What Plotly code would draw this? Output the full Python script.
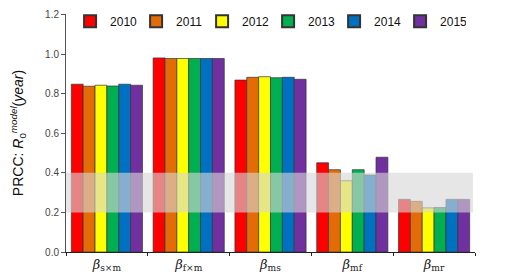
import plotly.graph_objects as go

categories = ["<i>β</i><sub>s×m</sub>", "<i>β</i><sub>f×m</sub>", "<i>β</i><sub>ms</sub>",
              "<i>β</i><sub>mf</sub>", "<i>β</i><sub>mr</sub>"]
years = ["2010", "2011", "2012", "2013", "2014", "2015"]
colors = ["#FF0000", "#E36C09", "#FFFF00", "#00B050", "#0070C0", "#7030A0"]
y_ticks = [0.0, 0.2, 0.4, 0.6, 0.8, 1.0, 1.2]

v2010 = [0.848, 0.981, 0.869, 0.451, 0.266]
v2011 = [0.838, 0.978, 0.883, 0.416, 0.256]
v2012 = [0.843, 0.978, 0.886, 0.360, 0.223]
v2013 = [0.839, 0.978, 0.881, 0.416, 0.225]
v2014 = [0.848, 0.978, 0.883, 0.389, 0.266]
v2015 = [0.843, 0.978, 0.873, 0.479, 0.266]
series = [v2010, v2011, v2012, v2013, v2014, v2015]

band_low, band_high = 0.2, 0.4

fig = go.Figure()
for y, vals, c in zip(years, series, colors):
    fig.add_trace(go.Bar(x=categories, y=vals, name=y, marker_color=c,
                         marker_line=dict(color="#333333", width=0.7)))

fig.add_shape(type="rect", xref="paper", yref="y", x0=0, x1=0.995,
              y0=band_low, y1=band_high, fillcolor="rgba(215,215,215,0.62)",
              line_width=0, layer="above")

fig.update_layout(
    width=505, height=272,
    margin=dict(l=58, r=38, t=6, b=28, autoexpand=False),
    paper_bgcolor="white", plot_bgcolor="white",
    barmode="group", bargap=0.13, bargroupgap=0,
    font=dict(family="Liberation Sans, Arial", color="#222222"),
    showlegend=True,
    legend=dict(orientation="h", x=0.01, y=0.97, xanchor="left", yanchor="middle",
                font=dict(size=12, color="#111111"), bgcolor="rgba(0,0,0,0)",
                entrywidth=21, entrywidthmode="pixels", itemsizing="constant"),
    xaxis=dict(showline=True, linecolor="#222222", linewidth=1, automargin=False,
               ticks="outside", ticklen=3, tickcolor="#222222", tickson="boundaries",
               tickfont=dict(family="DejaVu Serif, Liberation Serif", size=13, color="#222222"),
               showgrid=False),
    yaxis=dict(range=[0, 1.203], tickmode="array", tickvals=y_ticks,
               ticktext=[f"{t:.1f}" for t in y_ticks], showline=True, automargin=False,
               linecolor="#555555", linewidth=1, ticks="outside", ticklen=4,
               tickcolor="#555555", showgrid=False, zeroline=False,
               tickfont=dict(size=10, color="#444444"),
               title=dict(text="PRCC: <i>R</i><sub>0</sub><sup><i>model</i></sup>(<i>year</i>)",
                          font=dict(size=14, color="#111111"), standoff=18)),
)

fig.write_html("out.html")
